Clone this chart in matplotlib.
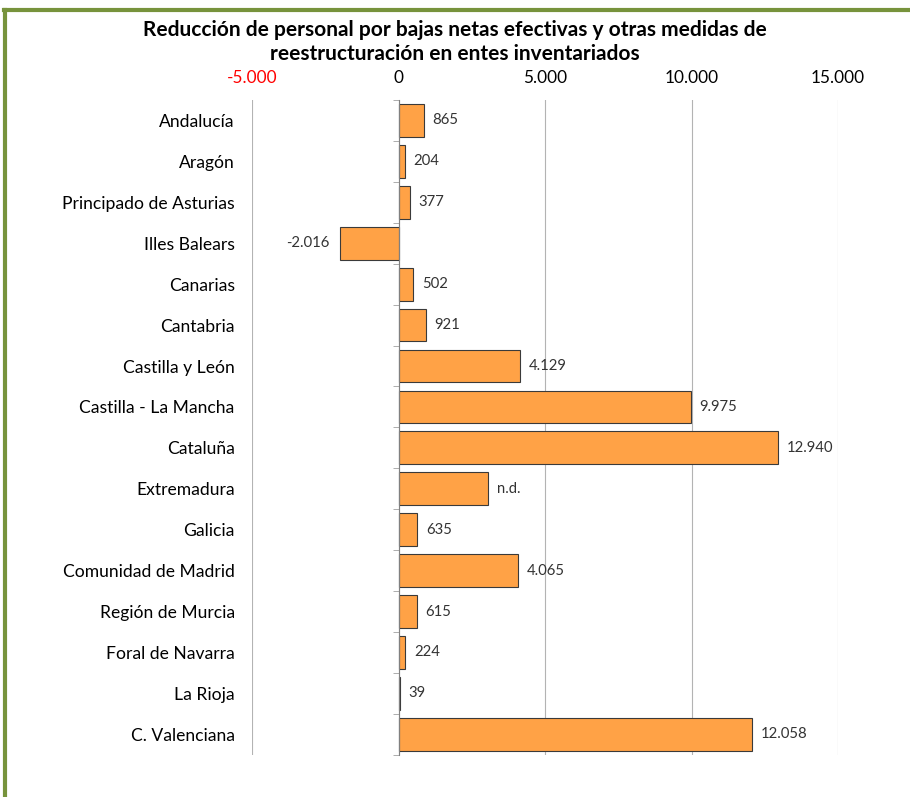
import matplotlib.pyplot as plt
import numpy as np
from matplotlib.lines import Line2D

plt.rcParams['font.family'] = ['Lato', 'DejaVu Sans']

regiones = ["Andalucía", "Aragón", "Principado de Asturias", "Illes Balears", "Canarias",
            "Cantabria", "Castilla y León", "Castilla - La Mancha", "Cataluña", "Extremadura",
            "Galicia", "Comunidad de Madrid", "Región de Murcia", "Foral de Navarra",
            "La Rioja", "C. Valenciana"]
valores = [865, 204, 377, -2016, 502, 921, 4129, 9975, 12940, 3050, 635, 4065, 615, 224, 39, 12058]
etiquetas = ["865", "204", "377", "-2.016", "502", "921", "4.129", "9.975", "12.940", "n.d.",
             "635", "4.065", "615", "224", "39", "12.058"]
ticks_x = [-5000, 0, 5000, 10000, 15000]
ticks_txt = ["-5.000", "0", "5.000", "10.000", "15.000"]

fig = plt.figure(figsize=(9.1, 7.97), dpi=100)
ax = fig.add_axes([0.277, 0.053, 0.644, 0.8215])

y = np.arange(len(regiones))
ax.barh(y, valores, height=0.8, color="#FFA246", edgecolor="#3a3a3a", linewidth=0.8, zorder=2)
ax.set_ylim(len(regiones) - 0.5, -0.5)
ax.set_xlim(-5000, 15000)

ax.xaxis.tick_top()
ax.set_xticks(ticks_x, ticks_txt)
ax.tick_params(axis="x", length=0, pad=10, labelsize=12.4)
ax.get_xticklabels()[0].set_color("red")
ax.grid(True, axis="x", color="#a0a0a0", linewidth=0.8, zorder=3, alpha=0.8)

ax.set_yticks(np.arange(len(regiones) + 1) - 0.5, minor=True)
ax.set_yticks(y, regiones)
ax.tick_params(axis="y", which="major", length=0, pad=118, labelsize=12.6)
ax.tick_params(axis="y", which="minor", length=4, color="#a0a0a0")
for lab in ax.get_yticklabels():
    lab.set_horizontalalignment("right")

for s in ["top", "bottom", "right"]:
    ax.spines[s].set_visible(False)
ax.spines["left"].set_position(("data", 0))
ax.spines["left"].set_color("#808080")

for yi, v, t in zip(y, valores, etiquetas):
    if v < 0:
        ax.text(v - 350, yi, t, ha="right", va="center", fontsize=10.7, color="#333333")
    else:
        ax.text(v + 300, yi, t, ha="left", va="center", fontsize=10.7, color="#333333")

fig.text(0.5, 0.947, "Reducción de personal por bajas netas efectivas y otras medidas de\n"
         "reestructuración en entes inventariados", ha="center", va="center",
         fontsize=15, fontweight="bold", linespacing=1.25)

verde = "#77933C"
fig.add_artist(Line2D([0.006, 0.006], [0, 0.988], transform=fig.transFigure, color=verde, linewidth=3))
fig.add_artist(Line2D([0.004, 1], [0.987, 0.987], transform=fig.transFigure, color=verde, linewidth=3))

fig.savefig("out.png", dpi=100)
